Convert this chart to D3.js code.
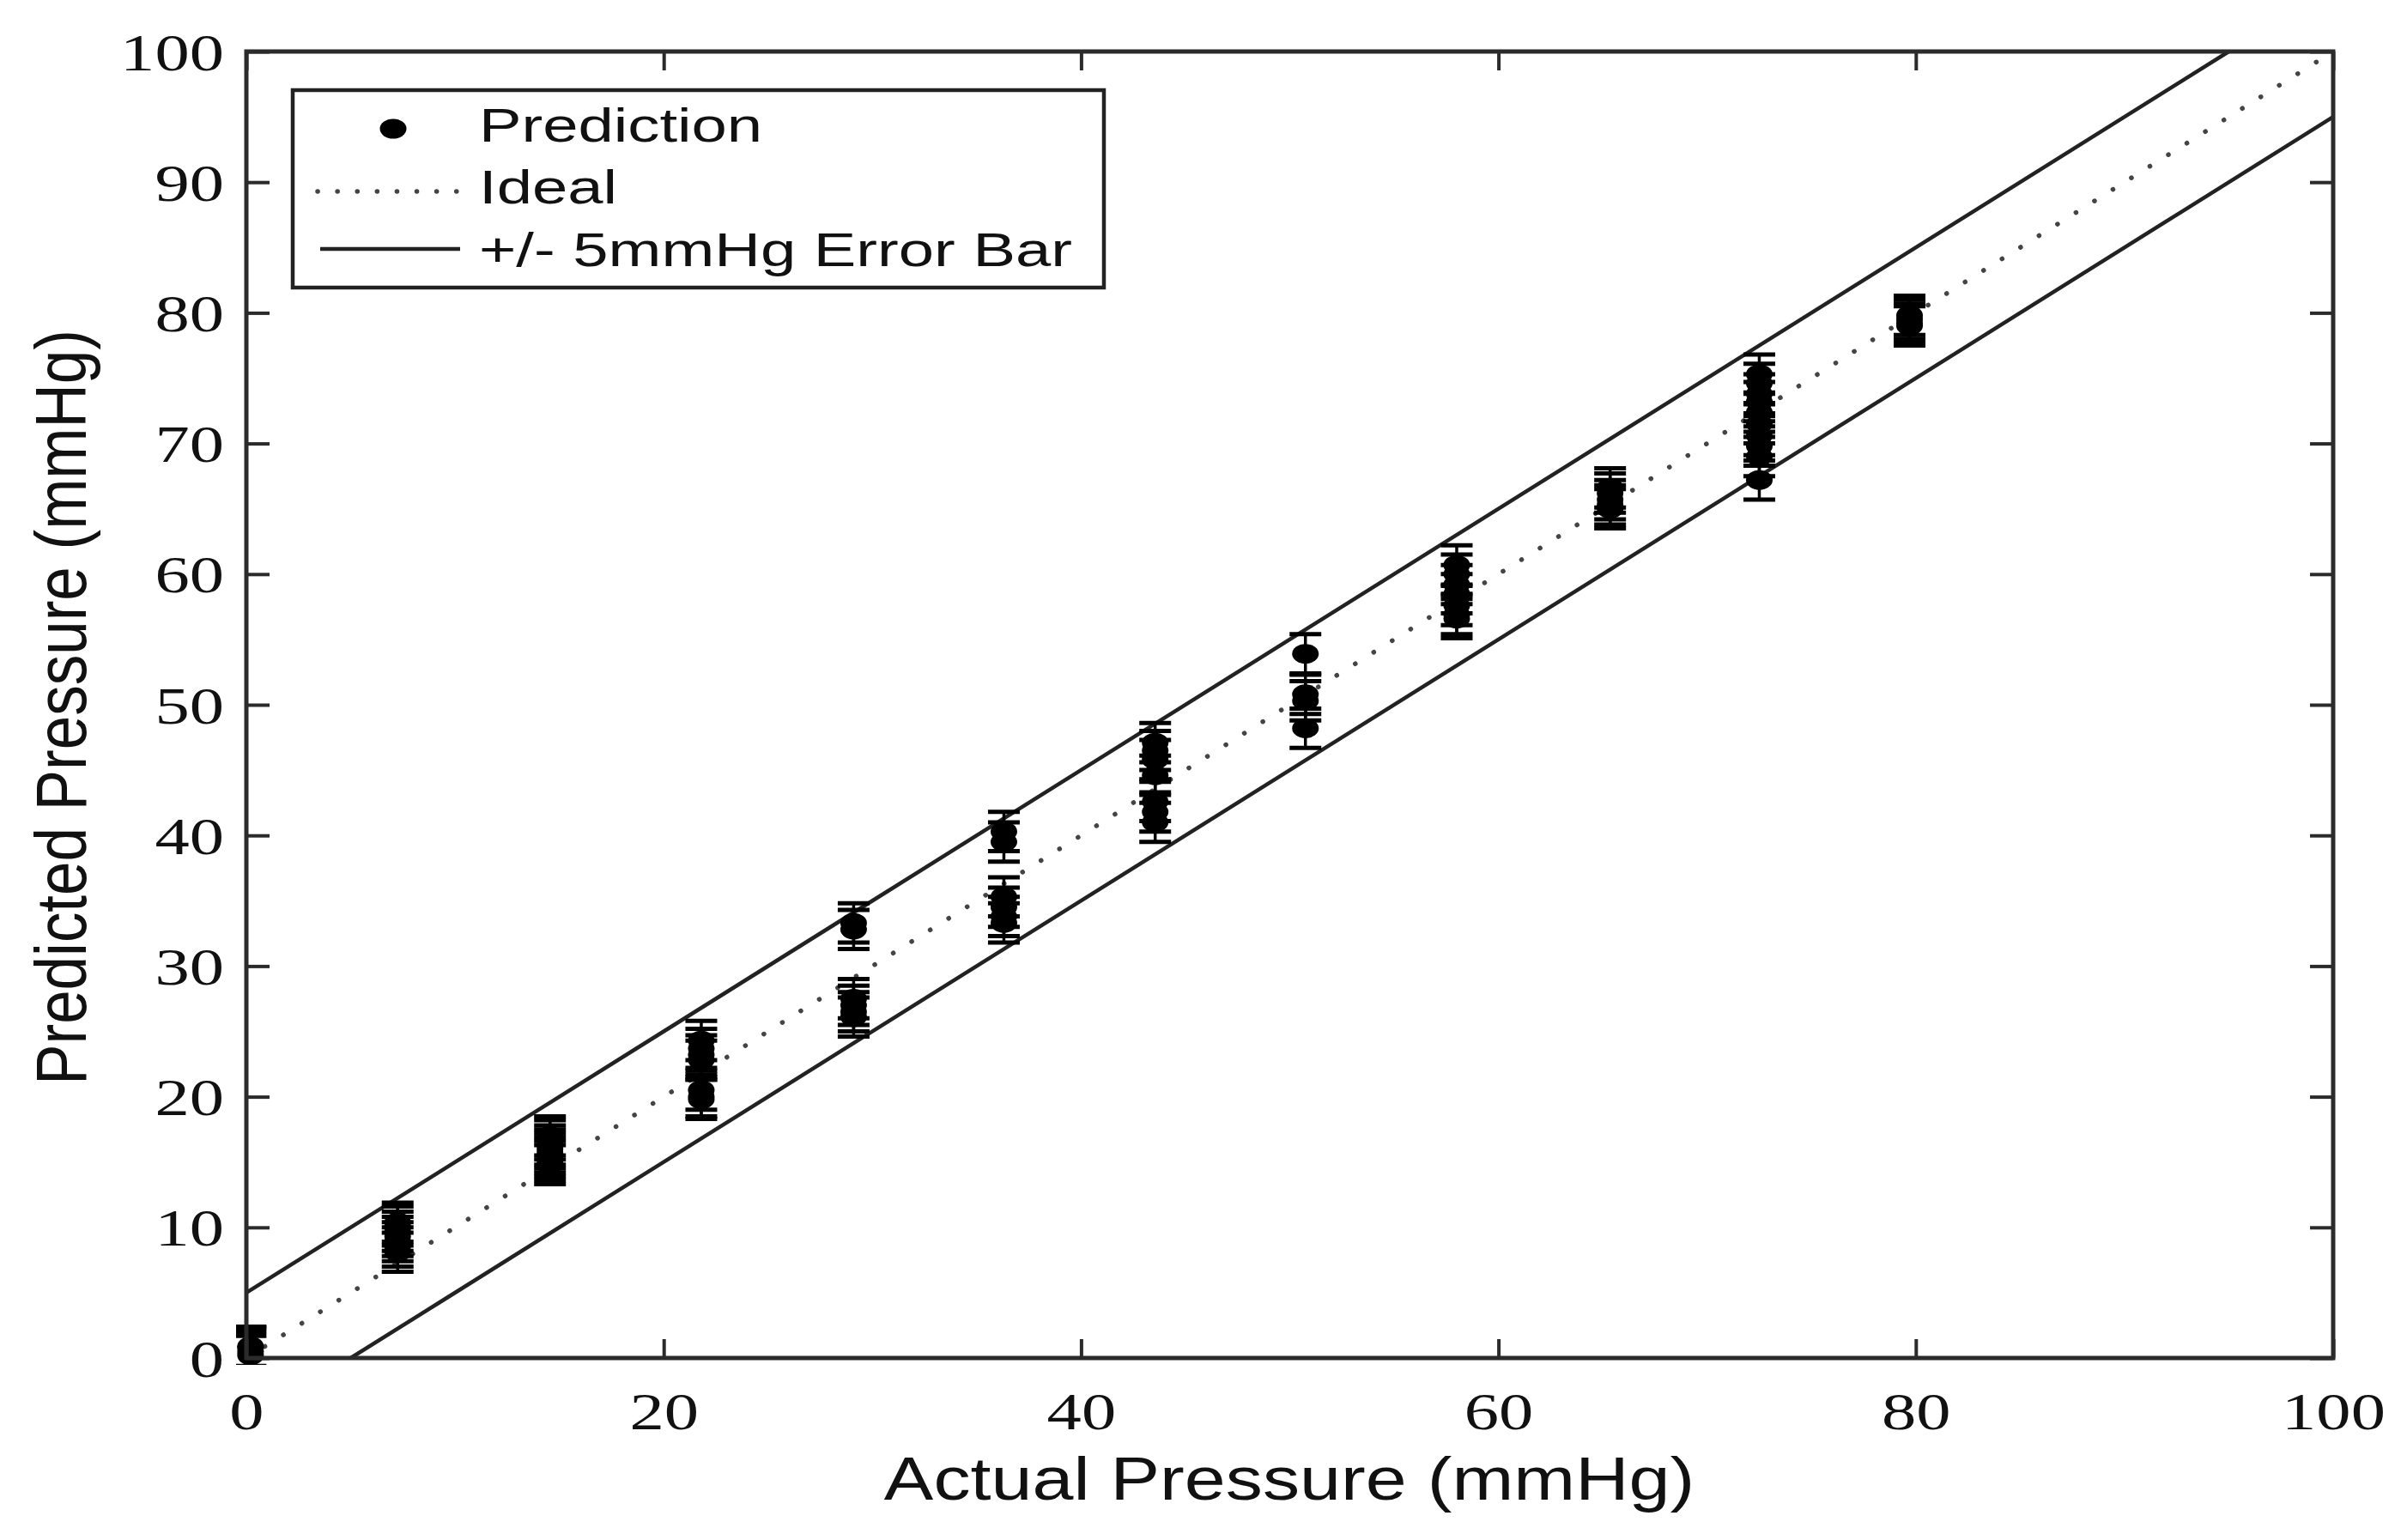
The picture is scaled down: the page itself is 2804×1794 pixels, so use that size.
<!DOCTYPE html>
<html><head><meta charset="utf-8">
<script src="https://cdn.jsdelivr.net/npm/d3@7"></script>
<style>html,body{margin:0;padding:0;background:#fff;} svg{display:block;}</style>
</head><body>
<svg id="chart" width="2804" height="1794"></svg>
<script>
// ---- data ----
const xTicks = [0, 20, 40, 60, 80, 100];
const yTicks = [0, 10, 20, 30, 40, 50, 60, 70, 80, 90, 100];
const clusterX = [0.2, 7.25, 14.55, 21.8, 29.1, 36.3, 43.55, 50.75, 58.0, 65.35, 72.5, 79.7];
const clusterY = [
  [0.2, 0.5, 0.8, 0.9],
  [8.1, 8.5, 8.9, 9.3, 9.7, 10.1, 10.4],
  [14.8, 15.1, 15.4, 15.7, 16.0, 16.3, 16.7, 17.0],
  [24.3, 23.7, 23.2, 22.8, 20.5, 20.0, 19.8],
  [33.3, 32.8, 27.5, 27.0, 26.5, 26.1],
  [40.3, 39.5, 35.3, 34.5, 33.8, 33.3],
  [47.1, 46.5, 45.8, 44.6, 42.6, 41.8, 41.0],
  [53.9, 50.8, 50.3, 48.2],
  [60.7, 60.0, 59.2, 58.5, 57.6, 56.9, 56.6],
  [66.6, 66.2, 65.7, 65.3, 65.0],
  [75.3, 74.6, 73.8, 73.2, 72.4, 71.5, 70.6, 69.8, 69.0, 67.2],
  [79.8, 79.5, 79.2, 79.0]
];
const errorHalf = 1.5;       // error bar half length (mmHg)
const bandOffset = 5;        // +/- 5 mmHg band
const domainMin = 0, domainMax = 100;
const legendLabels = ["Prediction", "Ideal", "+/- 5mmHg Error Bar"];
const xTitle = "Actual Pressure (mmHg)";
const yTitle = "Predicted Pressure (mmHg)";

// ---- layout ----
const L = 287, R = 2718, T = 60, B = 1582;
const svg = d3.select("#chart");
const x = d3.scaleLinear([domainMin, domainMax], [L, R]);
const y = d3.scaleLinear([domainMin, domainMax], [B, T]);
const ink = "#111";
const axisCol = "#2b2b2b";

const defs = svg.append("defs");
defs.append("clipPath").attr("id", "clip")
  .append("rect").attr("x", L).attr("y", T).attr("width", R - L).attr("height", B - T);
defs.append("clipPath").attr("id", "clipPts")
  .append("rect").attr("x", L - 12).attr("y", T).attr("width", R - L + 12).attr("height", B - T + 8);

// ---- lines ----
const line = d3.line().x(d => x(d[0])).y(d => y(d[1]));
const gLines = svg.append("g").attr("clip-path", "url(#clip)");
gLines.append("path")
  .attr("d", line([[domainMin, domainMin], [domainMax, domainMax]]))
  .attr("fill", "none").attr("stroke", "#444").attr("stroke-width", 5.5)
  .attr("stroke-dasharray", "0.1 25.3").attr("stroke-linecap", "round");
gLines.append("path")
  .attr("d", line([[domainMin, domainMin + bandOffset], [domainMax - bandOffset, domainMax]]))
  .attr("fill", "none").attr("stroke", "#222").attr("stroke-width", 4.5);
gLines.append("path")
  .attr("d", line([[domainMin + bandOffset, domainMin], [domainMax, domainMax - bandOffset]]))
  .attr("fill", "none").attr("stroke", "#222").attr("stroke-width", 4.5);

// ---- points with error bars ----
const pts = [];
clusterX.forEach((cx, i) => clusterY[i].forEach(v => pts.push({ cx, v })));
const capW = 18.5;
const gPts = svg.append("g").attr("clip-path", "url(#clipPts)");
const pg = gPts.selectAll("g.pt").data(pts).join("g").attr("class", "pt");
pg.append("line")
  .attr("x1", d => x(d.cx)).attr("x2", d => x(d.cx))
  .attr("y1", d => y(d.v - errorHalf)).attr("y2", d => y(d.v + errorHalf))
  .attr("stroke", "#000").attr("stroke-width", 3.5);
pg.append("line")
  .attr("x1", d => x(d.cx) - capW).attr("x2", d => x(d.cx) + capW)
  .attr("y1", d => y(d.v + errorHalf)).attr("y2", d => y(d.v + errorHalf))
  .attr("stroke", "#000").attr("stroke-width", 5);
pg.append("line")
  .attr("x1", d => x(d.cx) - capW).attr("x2", d => x(d.cx) + capW)
  .attr("y1", d => y(d.v - errorHalf)).attr("y2", d => y(d.v - errorHalf))
  .attr("stroke", "#000").attr("stroke-width", 5);
pg.append("ellipse")
  .attr("cx", d => x(d.cx)).attr("cy", d => y(d.v))
  .attr("rx", 15.5).attr("ry", 11.5).attr("fill", "#000");

// ---- axes ----
const tickFont = "'Liberation Serif','Times New Roman',serif";
function styleAxis(g) {
  g.select(".domain").remove();
  g.selectAll(".tick line").attr("stroke", axisCol).attr("stroke-width", 4);
}
const gx = svg.append("g").attr("transform", `translate(0,${B})`)
  .call(d3.axisBottom(x).tickValues(xTicks).tickSize(-22).tickFormat(d3.format("d")));
styleAxis(gx);
gx.selectAll("text").attr("y", 0).attr("dy", 0)
  .attr("transform", "translate(0,83) scale(1.3,1)")
  .attr("font-family", tickFont).attr("font-size", 62).attr("fill", ink);

const gy = svg.append("g").attr("transform", `translate(${L},0)`)
  .call(d3.axisLeft(y).tickValues(yTicks).tickSize(-27).tickFormat(d3.format("d")));
styleAxis(gy);
gy.selectAll("text").attr("x", 0).attr("dy", 0)
  .attr("transform", "translate(-26,21) scale(1.3,1)")
  .attr("font-family", tickFont).attr("font-size", 62).attr("fill", ink);

const gt = svg.append("g").attr("transform", `translate(0,${T})`)
  .call(d3.axisTop(x).tickValues(xTicks).tickSize(-22).tickFormat(""));
styleAxis(gt);
const gr = svg.append("g").attr("transform", `translate(${R},0)`)
  .call(d3.axisRight(y).tickValues(yTicks).tickSize(-27).tickFormat(""));
styleAxis(gr);

svg.append("rect").attr("x", L).attr("y", T).attr("width", R - L).attr("height", B - T)
  .attr("fill", "none").attr("stroke", axisCol).attr("stroke-width", 5);

// ---- titles ----
const sansFont = "'Liberation Sans',Arial,Helvetica,sans-serif";
svg.append("text").text(xTitle)
  .attr("transform", "translate(1502,1747) scale(1.215,1)")
  .attr("text-anchor", "middle").attr("font-family", sansFont).attr("font-size", 71).attr("fill", ink);
svg.append("text").text(yTitle)
  .attr("transform", "translate(100,824) rotate(-90) scale(1,1.18)")
  .attr("text-anchor", "middle").attr("font-family", sansFont).attr("font-size", 71).attr("fill", ink);

// ---- legend ----
const lg = svg.append("g");
lg.append("rect").attr("x", 341).attr("y", 105).attr("width", 945).attr("height", 230)
  .attr("fill", "#fff").attr("stroke", "#222").attr("stroke-width", 4.5);
const rowsY = [150, 223, 290];
const baseY = [165, 237, 310];
lg.append("ellipse").attr("cx", 458).attr("cy", rowsY[0]).attr("rx", 15.5).attr("ry", 11.5).attr("fill", "#000");
lg.append("line").attr("x1", 370).attr("x2", 532).attr("y1", rowsY[1]).attr("y2", rowsY[1])
  .attr("stroke", "#444").attr("stroke-width", 5.5).attr("stroke-dasharray", "0.1 23")
  .attr("stroke-linecap", "round");
lg.append("line").attr("x1", 373).attr("x2", 536).attr("y1", rowsY[2]).attr("y2", rowsY[2])
  .attr("stroke", "#222").attr("stroke-width", 4.5);
legendLabels.forEach((t, i) => {
  lg.append("text").text(t)
    .attr("transform", `translate(558,${baseY[i]}) scale(1.35,1)`)
    .attr("font-family", sansFont).attr("font-size", 55).attr("fill", ink);
});
</script>
</body></html>
